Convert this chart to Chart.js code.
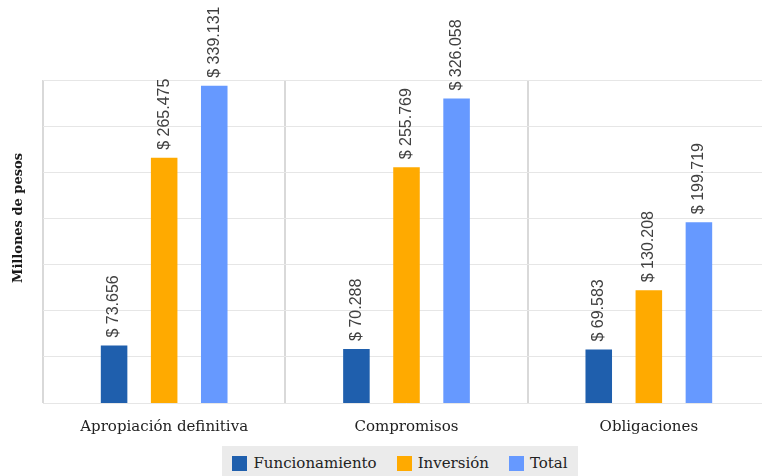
<!DOCTYPE html>
<html>
<head>
<meta charset="utf-8">
<script src="https://cdn.jsdelivr.net/npm/chart.js@4/dist/chart.umd.min.js"></script>
<style>
  html, body { margin: 0; padding: 0; background: #fff; overflow: hidden; width: 762px; height: 476px; }
  #wrap { position: relative; width: 770px; height: 476px; }
  #legend {
    position: absolute; left: 222px; top: 446px; width: 356px; height: 34px;
    background: #EBEBEB; display: flex; align-items: center; justify-content: center;
    font-family: "DejaVu Serif", "Liberation Serif", serif; font-size: 15px; color: #222;
  }
  #legend .item { display: flex; align-items: center; margin: 0 10px; }
  #legend .swatch { width: 15px; height: 15px; margin-right: 6px; }
</style>
</head>
<body>
<div id="wrap">
  <canvas id="c" width="770" height="476"></canvas>
  <div id="legend"></div>
</div>
<script>
// Budget execution by stage, in millions of pesos
const categories = ['Apropiación definitiva', 'Compromisos', 'Obligaciones'];
const seriesNames = ['Funcionamiento', 'Inversión', 'Total'];
const funcionamiento = [73656, 70288, 69583];
const inversion = [265475, 255769, 130208];
const total = [339131, 326058, 199719];
const seriesColors = ['#1F5FAD', '#FFAA00', '#6699FF'];
const axisTitle = 'Millones de pesos';

const yMin = 15000;
const yMax = 345000;
const gridLineCount = 8;

const SERIF = '"DejaVu Serif", "Liberation Serif", serif';
const SANS = '"Liberation Sans", Arial, sans-serif';

// Thousands separated with a dot, e.g. 73656 -> "$ 73.656"
function formatPesos(v) {
  return '$ ' + String(Math.round(v)).replace(/\B(?=(\d{3})+(?!\d))/g, '.');
}

// Rotated value labels above every bar
const valueLabels = {
  id: 'valueLabels',
  afterDatasetsDraw(chart) {
    const ctx = chart.ctx;
    ctx.save();
    ctx.font = '16px ' + SANS;
    ctx.fillStyle = '#404040';
    ctx.textAlign = 'left';
    ctx.textBaseline = 'middle';
    chart.data.datasets.forEach((ds, i) => {
      chart.getDatasetMeta(i).data.forEach((bar, j) => {
        ctx.save();
        ctx.translate(bar.x, bar.y - 8);
        ctx.rotate(-Math.PI / 2);
        ctx.fillText(formatPesos(ds.data[j]), 0, 0);
        ctx.restore();
      });
    });
    ctx.restore();
  }
};

// Vertical axis title, centred on the full plotting band
const axisTitlePlugin = {
  id: 'axisTitle',
  afterDraw(chart) {
    const ctx = chart.ctx;
    ctx.save();
    ctx.font = 'bold 13px ' + SERIF;
    ctx.fillStyle = '#1a1a1a';
    ctx.textAlign = 'center';
    ctx.textBaseline = 'middle';
    ctx.translate(19, 218);
    ctx.rotate(-Math.PI / 2);
    ctx.fillText(axisTitle, 0, 0);
    ctx.restore();
  }
};

const chart = new Chart(document.getElementById('c'), {
  type: 'bar',
  data: {
    labels: categories,
    datasets: [
      { label: seriesNames[0], data: funcionamiento, backgroundColor: seriesColors[0] },
      { label: seriesNames[1], data: inversion, backgroundColor: seriesColors[1] },
      { label: seriesNames[2], data: total, backgroundColor: seriesColors[2] }
    ]
  },
  options: {
    responsive: false,
    animation: false,
    devicePixelRatio: 1,
    layout: { padding: { left: 43, top: 80, right: 0, bottom: 25 } },
    datasets: { bar: { categoryPercentage: 0.62, barPercentage: 0.53 } },
    scales: {
      x: {
        grid: { offset: true, color: '#D9D9D9', lineWidth: 2, drawTicks: false },
        border: { display: false },
        ticks: { font: { family: SERIF, size: 15 }, color: '#222', padding: 15 }
      },
      y: {
        min: yMin,
        max: yMax,
        grid: { color: '#E6E6E6', lineWidth: 1, drawTicks: false },
        border: { display: false },
        ticks: { display: false, count: gridLineCount }
      }
    },
    plugins: {
      legend: { display: false },
      tooltip: { enabled: false }
    }
  },
  plugins: [valueLabels, axisTitlePlugin]
});

// Legend built from the chart's own datasets
const legendEl = document.getElementById('legend');
chart.data.datasets.forEach(ds => {
  const item = document.createElement('span');
  item.className = 'item';
  const sw = document.createElement('span');
  sw.className = 'swatch';
  sw.style.background = ds.backgroundColor;
  item.appendChild(sw);
  item.appendChild(document.createTextNode(ds.label));
  legendEl.appendChild(item);
});
</script>
</body>
</html>
